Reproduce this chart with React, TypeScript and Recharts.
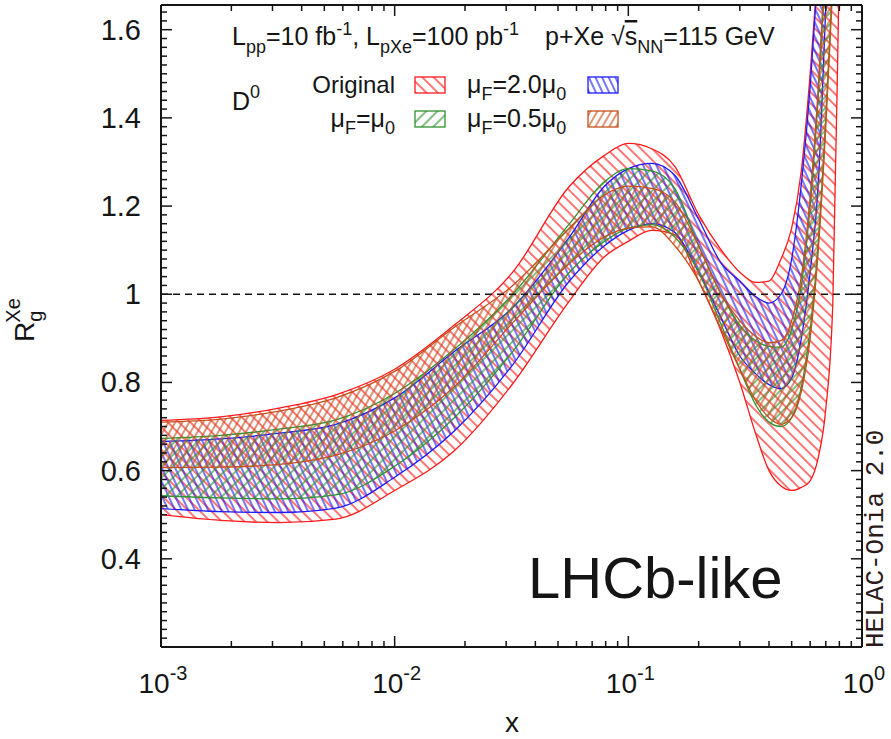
import React from "react";
import { Area, ComposedChart, ReferenceLine, XAxis, YAxis } from "recharts";

// x grid (Bjorken x) and band edges
const xValues = [
  0.001, 0.0018, 0.0032, 0.0056, 0.01, 0.018, 0.032, 0.056, 0.079, 0.1, 0.126,
  0.158, 0.2, 0.25, 0.3, 0.35, 0.4, 0.45, 0.5, 0.55, 0.6, 0.65, 0.7, 0.75, 0.8,
  0.85, 0.9,
];
const originalHi = [
  0.714, 0.722, 0.742, 0.772, 0.83, 0.93, 1.05, 1.245, 1.315, 1.342, 1.33,
  1.29, 1.18, 1.1, 1.05, 1.027, 1.03, 1.08, 1.15, 1.28, 1.5, 1.75, 2.0, 2.3,
  2.6, 2.9, 3.2,
];
const originalLo = [
  0.5, 0.487, 0.482, 0.49, 0.555, 0.645, 0.797, 0.985, 1.085, 1.12, 1.145,
  1.135, 1.03, 0.915, 0.8, 0.685, 0.6, 0.565, 0.555, 0.562, 0.577, 0.63, 0.74,
  0.98, 1.75, 2.5, 3.0,
];
const mu2Hi = [
  0.666, 0.672, 0.685, 0.705, 0.765, 0.87, 0.97, 1.13, 1.245, 1.285, 1.297,
  1.27, 1.17, 1.07, 1.03, 0.995, 0.98, 1.0, 1.08, 1.25, 1.47, 1.75, 2.0, 2.3,
  2.6, 2.9, 3.2,
];
const mu2Lo = [
  0.514, 0.507, 0.505, 0.515, 0.585, 0.69, 0.84, 1.03, 1.11, 1.145, 1.16, 1.14,
  1.05, 0.945, 0.86, 0.82, 0.795, 0.786, 0.81, 0.9, 1.05, 1.25, 1.65, 2.0, 2.4,
  2.8, 3.1,
];
const mu1Hi = [
  0.673, 0.68, 0.694, 0.715, 0.775, 0.875, 1.0, 1.16, 1.255, 1.285, 1.28, 1.24,
  1.11, 1.0, 0.93, 0.895, 0.882, 0.88, 0.92, 1.02, 1.2, 1.45, 1.75, 2.1, 2.45,
  2.8, 3.1,
];
const mu1Lo = [
  0.543, 0.538, 0.536, 0.545, 0.61, 0.72, 0.87, 1.05, 1.12, 1.15, 1.158, 1.13,
  1.05, 0.93, 0.83, 0.75, 0.71, 0.7, 0.72, 0.79, 0.92, 1.12, 1.4, 1.72, 2.1,
  2.5, 2.9,
];
const mu05Hi = [
  0.71, 0.717, 0.735, 0.765, 0.825, 0.925, 1.02, 1.15, 1.225, 1.245, 1.24,
  1.21, 1.11, 1.0, 0.94, 0.905, 0.89, 0.895, 0.94, 1.04, 1.22, 1.47, 1.78, 2.1,
  2.45, 2.8, 3.1,
];
const mu05Lo = [
  0.607, 0.608, 0.614, 0.635, 0.69, 0.79, 0.935, 1.07, 1.13, 1.15, 1.153, 1.11,
  1.03, 0.92, 0.83, 0.76, 0.72, 0.705, 0.72, 0.78, 0.9, 1.1, 1.38, 1.7, 2.05,
  2.4, 2.8,
];

const xDecades = [0.001, 0.01, 0.1, 1];
const xDecadeExp = ["-3", "-2", "-1", "0"];
const yLabels = [0.4, 0.6, 0.8, 1, 1.2, 1.4, 1.6];

const RED = "#ff1a1a";
const BLUE = "#1a1aff";
const GREEN = "#2f932f";
const BROWN = "#c4501c";
const INK = "#151515";
const FONT = "'Liberation Sans', Arial, sans-serif";

const data = xValues.map((x, i) => ({
  x,
  orig: [originalLo[i], originalHi[i]],
  mu2: [mu2Lo[i], mu2Hi[i]],
  mu1: [mu1Lo[i], mu1Hi[i]],
  mu05: [mu05Lo[i], mu05Hi[i]],
}));

const xTicks = [
  ...xDecades.slice(0, 3).flatMap((d) =>
    [2, 3, 4, 5, 6, 7, 8, 9].map((k) => +(d * k).toPrecision(3))
  ),
  ...xDecades,
];
const yTicks = Array.from({ length: 73 }, (_, i) => +(0.2 + i * 0.02).toFixed(2));

const decadeIndex = (v: number) =>
  xDecades.findIndex((d) => Math.abs(d - v) / d < 1e-6);
const isYMajor = (v: number) => Math.round(v * 100) % 20 === 0;

const BottomTick = (p: any) => {
  const i = decadeIndex(p.payload.value);
  return (
    <g>
      <line x1={p.x} x2={p.x} y1={p.y} y2={p.y - (i >= 0 ? 11 : 6)} stroke={INK} strokeWidth={1.5} />
      {i >= 0 && (
        <text x={p.x + 2} y={p.y + 46} textAnchor="middle" fontSize={28} fontFamily={FONT} fill={INK}>
          10
          <tspan dy={-13} fontSize={20}>
            {xDecadeExp[i]}
          </tspan>
        </text>
      )}
    </g>
  );
};

const TopTick = (p: any) => {
  const i = decadeIndex(p.payload.value);
  return <line x1={p.x} x2={p.x} y1={p.y} y2={p.y + (i >= 0 ? 11 : 6)} stroke={INK} strokeWidth={1.5} />;
};

const LeftTick = (p: any) => {
  const v = p.payload.value;
  const major = isYMajor(v);
  return (
    <g>
      <line x1={p.x} x2={p.x + (major ? 11 : 6)} y1={p.y} y2={p.y} stroke={INK} strokeWidth={1.5} />
      {yLabels.includes(v) && (
        <text x={p.x - 20} y={p.y + 10} textAnchor="end" fontSize={29} fontFamily={FONT} fill={INK}>
          {String(v)}
        </text>
      )}
    </g>
  );
};

const RightTick = (p: any) => {
  const major = isYMajor(p.payload.value);
  return <line x1={p.x} x2={p.x - (major ? 11 : 6)} y1={p.y} y2={p.y} stroke={INK} strokeWidth={1.5} />;
};

const Hatch = ({ id, color, size, angle }: { id: string; color: string; size: number; angle: number }) => (
  <pattern id={id} patternUnits="userSpaceOnUse" width={size} height={size} patternTransform={`rotate(${angle})`}>
    <line x1={size / 2} x2={size / 2} y1={0} y2={size} stroke={color} strokeWidth={1.2} />
  </pattern>
);

const Mu = ({ sub, rest, sub2 }: { sub: string; rest: string; sub2: string }) => (
  <>
    μ<tspan dy={7} fontSize={18}>{sub}</tspan>
    <tspan dy={-7}>{rest}</tspan>
    <tspan dy={7} fontSize={18}>{sub2}</tspan>
  </>
);

export default function App() {
  const band = (key: string, color: string, fill: string) => (
    <Area
      key={key}
      dataKey={key}
      type="monotone"
      stroke={color}
      strokeWidth={1.3}
      fill={`url(#${fill})`}
      fillOpacity={1}
      dot={false}
      activeDot={false}
      isAnimationActive={false}
    />
  );

  return (
    <div style={{ position: "absolute", left: 0, top: 0, width: 891, height: 739, background: "#fff" }}>
      <ComposedChart width={891} height={739} data={data} margin={{ top: 4, right: 28, bottom: 91, left: 160 }}>
        <defs>
          <Hatch id="hRed" color={RED} size={8} angle={-45} />
          <Hatch id="hBlue" color={BLUE} size={6} angle={-25} />
          <Hatch id="hGreen" color={GREEN} size={8} angle={45} />
          <Hatch id="hBrown" color={BROWN} size={6} angle={30} />
        </defs>
        <XAxis
          dataKey="x"
          type="number"
          scale="log"
          domain={[0.001, 1]}
          allowDataOverflow
          ticks={xTicks}
          interval={0}
          height={1}
          tickSize={0}
          tickMargin={0}
          tick={BottomTick}
          axisLine={{ stroke: INK, strokeWidth: 2 }}
        />
        <XAxis
          xAxisId="top"
          orientation="top"
          dataKey="x"
          type="number"
          scale="log"
          domain={[0.001, 1]}
          allowDataOverflow
          ticks={xTicks}
          interval={0}
          height={1}
          tickSize={0}
          tickMargin={0}
          tick={TopTick}
          axisLine={{ stroke: INK, strokeWidth: 2 }}
        />
        <YAxis
          type="number"
          domain={[0.2, 1.656]}
          allowDataOverflow
          ticks={yTicks}
          interval={0}
          width={1}
          tickSize={0}
          tickMargin={0}
          tick={LeftTick}
          axisLine={{ stroke: INK, strokeWidth: 2 }}
        />
        <YAxis
          yAxisId="r"
          orientation="right"
          type="number"
          domain={[0.2, 1.656]}
          allowDataOverflow
          ticks={yTicks}
          interval={0}
          width={1}
          tickSize={0}
          tickMargin={0}
          tick={RightTick}
          axisLine={{ stroke: INK, strokeWidth: 2 }}
        />
        {band("orig", RED, "hRed")}
        {band("mu2", BLUE, "hBlue")}
        {band("mu1", GREEN, "hGreen")}
        {band("mu05", BROWN, "hBrown")}
        <ReferenceLine y={1} stroke={INK} strokeWidth={1.3} strokeDasharray="7 5" />

        <g fontFamily={FONT} fill={INK}>
          <text x={232} y={45} fontSize={25}>
            L<tspan dy={8} fontSize={18}>pp</tspan>
            <tspan dy={-8}>=10 fb</tspan>
            <tspan dy={-10} fontSize={18}>-1</tspan>
            <tspan dy={10}>, L</tspan>
            <tspan dy={8} fontSize={18}>pXe</tspan>
            <tspan dy={-8}>=100 pb</tspan>
            <tspan dy={-10} fontSize={18}>-1</tspan>
          </text>
          <text x={545} y={45} fontSize={25}>
            p+Xe √<tspan textDecoration="overline">s</tspan>
            <tspan dy={8} fontSize={18}>NN</tspan>
            <tspan dy={-8}>=115 GeV</tspan>
          </text>
          <text x={232} y={110} fontSize={25}>
            D<tspan dy={-12} fontSize={18}>0</tspan>
          </text>
          <text x={395} y={93} fontSize={24} textAnchor="end">Original</text>
          <text x={467} y={93} fontSize={25}>
            <Mu sub="F" rest="=2.0μ" sub2="0" />
          </text>
          <text x={395} y={127} fontSize={25} textAnchor="end">
            <Mu sub="F" rest="=μ" sub2="0" />
          </text>
          <text x={467} y={127} fontSize={25}>
            <Mu sub="F" rest="=0.5μ" sub2="0" />
          </text>
          <text x={528} y={598} fontSize={58}>LHCb-like</text>
          <text x={512} y={732} fontSize={28} textAnchor="middle">x</text>
          <text transform="translate(34,342) rotate(-90)" fontSize={28}>
            R<tspan dy={8} fontSize={20}>g</tspan>
            <tspan dx={-12} dy={-22} fontSize={20}>Xe</tspan>
          </text>
        </g>
        <rect x={415} y={77} width={30} height={16} fill="url(#hRed)" stroke={RED} strokeWidth={1.3} />
        <rect x={588} y={77} width={30} height={16} fill="url(#hBlue)" stroke={BLUE} strokeWidth={1.3} />
        <rect x={415} y={111} width={30} height={16} fill="url(#hGreen)" stroke={GREEN} strokeWidth={1.3} />
        <rect x={588} y={111} width={30} height={16} fill="url(#hBrown)" stroke={BROWN} strokeWidth={1.3} />
        <text
          transform="translate(883,648) rotate(-90)"
          fontSize={26}
          fontFamily="'Liberation Mono', 'DejaVu Sans Mono', monospace"
          fill="#2a1a1a"
        >
          HELAC-Onia 2.0
        </text>
      </ComposedChart>
    </div>
  );
}
